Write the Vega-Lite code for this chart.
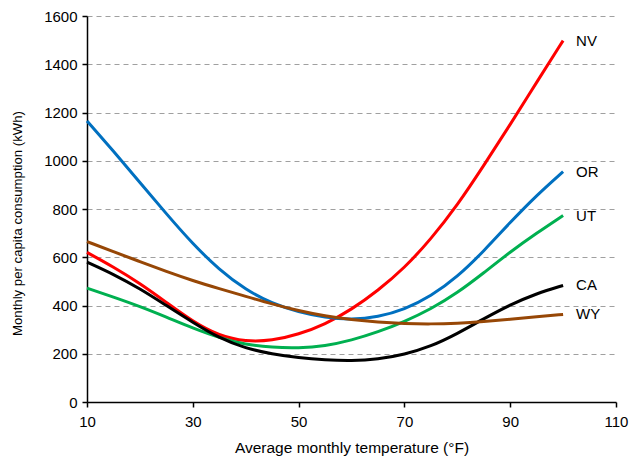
{
  "$schema": "https://vega.github.io/schema/vega-lite/v6.json",
  "autosize": {"type": "none"},
  "width": 529,
  "height": 386,
  "padding": {"left": 87, "top": 16, "right": 14, "bottom": 55},
  "background": "white",
  "config": {
    "view": {"stroke": null},
    "font": "Liberation Sans",
    "axis": {"labelFont": "Liberation Sans", "titleFont": "Liberation Sans", "labelColor": "#000000", "titleColor": "#000000", "titleFontWeight": "normal"}
  },
  "data": {"values": [
    {"state": "NV", "temp": 10, "kwh": 620}, {"state": "NV", "temp": 15, "kwh": 560}, {"state": "NV", "temp": 20, "kwh": 492}, {"state": "NV", "temp": 25, "kwh": 413}, {"state": "NV", "temp": 30, "kwh": 333}, {"state": "NV", "temp": 35, "kwh": 274}, {"state": "NV", "temp": 40, "kwh": 250}, {"state": "NV", "temp": 45, "kwh": 254}, {"state": "NV", "temp": 50, "kwh": 280}, {"state": "NV", "temp": 55, "kwh": 322}, {"state": "NV", "temp": 60, "kwh": 383}, {"state": "NV", "temp": 65, "kwh": 462}, {"state": "NV", "temp": 70, "kwh": 555}, {"state": "NV", "temp": 75, "kwh": 675}, {"state": "NV", "temp": 80, "kwh": 815}, {"state": "NV", "temp": 85, "kwh": 980}, {"state": "NV", "temp": 90, "kwh": 1150}, {"state": "NV", "temp": 95, "kwh": 1325}, {"state": "NV", "temp": 100, "kwh": 1498},
    {"state": "OR", "temp": 10, "kwh": 1165}, {"state": "OR", "temp": 15, "kwh": 1040}, {"state": "OR", "temp": 20, "kwh": 910}, {"state": "OR", "temp": 25, "kwh": 780}, {"state": "OR", "temp": 30, "kwh": 655}, {"state": "OR", "temp": 35, "kwh": 548}, {"state": "OR", "temp": 40, "kwh": 465}, {"state": "OR", "temp": 45, "kwh": 408}, {"state": "OR", "temp": 50, "kwh": 373}, {"state": "OR", "temp": 55, "kwh": 350}, {"state": "OR", "temp": 60, "kwh": 341}, {"state": "OR", "temp": 65, "kwh": 352}, {"state": "OR", "temp": 70, "kwh": 383}, {"state": "OR", "temp": 75, "kwh": 438}, {"state": "OR", "temp": 80, "kwh": 518}, {"state": "OR", "temp": 85, "kwh": 625}, {"state": "OR", "temp": 90, "kwh": 745}, {"state": "OR", "temp": 95, "kwh": 857}, {"state": "OR", "temp": 100, "kwh": 955},
    {"state": "UT", "temp": 10, "kwh": 472}, {"state": "UT", "temp": 15, "kwh": 435}, {"state": "UT", "temp": 20, "kwh": 396}, {"state": "UT", "temp": 25, "kwh": 352}, {"state": "UT", "temp": 30, "kwh": 306}, {"state": "UT", "temp": 35, "kwh": 266}, {"state": "UT", "temp": 40, "kwh": 238}, {"state": "UT", "temp": 45, "kwh": 226}, {"state": "UT", "temp": 50, "kwh": 223}, {"state": "UT", "temp": 55, "kwh": 232}, {"state": "UT", "temp": 60, "kwh": 256}, {"state": "UT", "temp": 65, "kwh": 290}, {"state": "UT", "temp": 70, "kwh": 333}, {"state": "UT", "temp": 75, "kwh": 385}, {"state": "UT", "temp": 80, "kwh": 452}, {"state": "UT", "temp": 85, "kwh": 535}, {"state": "UT", "temp": 90, "kwh": 622}, {"state": "UT", "temp": 95, "kwh": 700}, {"state": "UT", "temp": 100, "kwh": 773},
    {"state": "CA", "temp": 10, "kwh": 580}, {"state": "CA", "temp": 15, "kwh": 530}, {"state": "CA", "temp": 20, "kwh": 470}, {"state": "CA", "temp": 25, "kwh": 400}, {"state": "CA", "temp": 30, "kwh": 330}, {"state": "CA", "temp": 35, "kwh": 265}, {"state": "CA", "temp": 40, "kwh": 222}, {"state": "CA", "temp": 45, "kwh": 199}, {"state": "CA", "temp": 50, "kwh": 183}, {"state": "CA", "temp": 55, "kwh": 174}, {"state": "CA", "temp": 60, "kwh": 170}, {"state": "CA", "temp": 65, "kwh": 177}, {"state": "CA", "temp": 70, "kwh": 197}, {"state": "CA", "temp": 75, "kwh": 230}, {"state": "CA", "temp": 80, "kwh": 283}, {"state": "CA", "temp": 85, "kwh": 345}, {"state": "CA", "temp": 90, "kwh": 403}, {"state": "CA", "temp": 95, "kwh": 450}, {"state": "CA", "temp": 100, "kwh": 483},
    {"state": "WY", "temp": 10, "kwh": 665}, {"state": "WY", "temp": 15, "kwh": 623}, {"state": "WY", "temp": 20, "kwh": 582}, {"state": "WY", "temp": 25, "kwh": 541}, {"state": "WY", "temp": 30, "kwh": 503}, {"state": "WY", "temp": 35, "kwh": 470}, {"state": "WY", "temp": 40, "kwh": 438}, {"state": "WY", "temp": 45, "kwh": 406}, {"state": "WY", "temp": 50, "kwh": 378}, {"state": "WY", "temp": 55, "kwh": 356}, {"state": "WY", "temp": 60, "kwh": 341}, {"state": "WY", "temp": 65, "kwh": 331}, {"state": "WY", "temp": 70, "kwh": 325}, {"state": "WY", "temp": 75, "kwh": 323}, {"state": "WY", "temp": 80, "kwh": 326}, {"state": "WY", "temp": 85, "kwh": 333}, {"state": "WY", "temp": 90, "kwh": 343}, {"state": "WY", "temp": 95, "kwh": 353}, {"state": "WY", "temp": 100, "kwh": 363}
  ]},
  "encoding": {
    "x": {
      "field": "temp", "type": "quantitative",
      "scale": {"domain": [10, 110], "nice": false, "zero": false},
      "axis": {
        "title": "Average monthly temperature (°F)",
        "values": [10, 30, 50, 70, 90, 110],
        "format": "d",
        "grid": false,
        "domainColor": "#000000", "domainWidth": 1.5,
        "tickColor": "#000000", "tickWidth": 1.5, "tickSize": 5,
        "labelFontSize": 15, "labelPadding": 7, "labelFlush": false,
        "titleFontSize": 15.5, "titleY": 45, "titleBaseline": "middle"
      }
    },
    "y": {
      "field": "kwh", "type": "quantitative",
      "scale": {"domain": [0, 1600], "nice": false},
      "axis": {
        "title": "Monthly per capita consumption (kWh)",
        "values": [0, 200, 400, 600, 800, 1000, 1200, 1400, 1600],
        "format": "d",
        "grid": true, "gridColor": "#A0A0A0", "gridDash": [5, 4], "gridWidth": 1.2,
        "domainColor": "#000000", "domainWidth": 1.5,
        "tickColor": "#000000", "tickWidth": 1.5, "tickSize": 5,
        "labelFontSize": 15, "labelPadding": 5,
        "titleFontSize": 13.2, "titleX": -70, "titleY": 207, "titleBaseline": "middle", "titleAlign": "center"
      }
    },
    "color": {
      "field": "state", "type": "nominal",
      "scale": {"domain": ["NV", "OR", "UT", "CA", "WY"], "range": ["#FF0000", "#0070C0", "#00B050", "#000000", "#974706"]},
      "legend": null
    }
  },
  "layer": [
    {
      "mark": {"type": "line", "strokeWidth": 3, "interpolate": "basis"}
    },
    {
      "transform": [{"filter": "datum.temp == 100"}],
      "mark": {"type": "text", "align": "left", "baseline": "middle", "dx": 13, "fontSize": 15, "font": "Liberation Sans", "color": "#000000"},
      "encoding": {"text": {"field": "state"}, "color": {"value": "#000000"}}
    }
  ]
}
